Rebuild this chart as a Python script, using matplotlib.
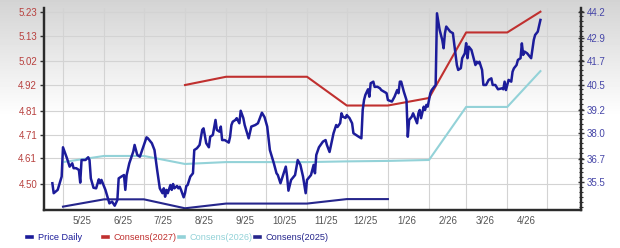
import numpy as np
import pandas as pd
import matplotlib
matplotlib.use('Agg')
import matplotlib.pyplot as plt
import matplotlib.dates as mdates
from matplotlib.ticker import MultipleLocator, NullFormatter
from matplotlib.lines import Line2D

plt.rcParams['font.family'] = ['Liberation Sans', 'DejaVu Sans']

# price, days counted from 2025-05-01
price_days = [-8, -7, -4, -1, 0, 3, 5, 7, 8, 10,
              12, 13, 14, 17, 19, 20, 21, 23, 25, 27,
              28, 29, 30, 32, 35, 37, 39, 41, 42, 44,
              46, 47, 48, 50, 53, 54, 56, 58, 61, 63,
              64, 67, 69, 71, 73, 75, 76, 77, 78, 79,
              81, 82, 83, 84, 86, 87, 88, 89, 91, 92,
              93, 94, 96, 98, 99, 101, 103, 105, 106, 108,
              110, 111, 113, 115, 116, 118, 119, 120, 122, 125,
              126, 127, 128, 130, 131, 133, 134, 136, 137, 140,
              142, 145, 147, 150, 152, 154, 156, 159, 161, 162,
              164, 166, 168, 169, 170, 172, 175, 177, 179, 181,
              183, 184, 187, 189, 190, 191, 193, 196, 198, 199,
              201, 204, 206, 207, 209, 210, 211, 213, 214, 215,
              216, 218, 219, 221, 223, 225, 226, 227, 228, 230,
              231, 232, 234, 235, 237, 239, 240, 242, 244, 245,
              248, 250, 252, 253, 254, 255, 257, 259, 260, 261,
              263, 264, 265, 267, 268, 269, 270, 272, 273, 274,
              275, 277, 278, 280, 281, 282, 284, 286, 287, 288,
              289, 291, 292, 294, 296, 297, 298, 300, 301, 303,
              304, 305, 306, 308, 309, 311, 312, 313, 314, 316,
              317, 319, 321, 323, 324, 326, 328, 331, 332, 333,
              334, 336, 338, 339, 340, 342, 343, 345, 346, 347,
              348, 350, 352, 353, 355, 356, 358, 360]
price_vals = [35.45, 34.94, 35.11, 35.79, 37.29, 36.73, 36.30, 36.47, 36.22, 36.22,
              36.13, 35.48, 36.64, 36.64, 36.78, 36.64, 35.70, 35.22, 35.19, 35.65,
              35.45, 35.62, 35.45, 35.11, 34.42, 34.51, 34.30, 34.59, 35.70, 35.79,
              35.87, 35.11, 35.87, 36.47, 37.07, 37.41, 36.90, 36.81, 37.41, 37.80,
              37.75, 37.50, 37.15, 36.13, 35.19, 34.94, 35.19, 34.76, 35.11, 34.94,
              35.36, 35.11, 35.41, 35.19, 35.31, 35.19, 35.27, 35.11, 34.73, 34.94,
              35.31, 35.36, 35.79, 35.96, 37.15, 37.24, 37.41, 38.18, 38.26, 37.50,
              37.29, 37.83, 37.92, 38.69, 38.18, 38.09, 38.35, 37.66, 37.66, 37.53,
              37.83, 38.43, 38.60, 38.69, 38.78, 38.52, 39.16, 38.78, 38.43, 37.75,
              38.35, 38.43, 38.52, 39.06, 38.83, 38.35, 37.15, 36.47, 35.96, 35.87,
              35.45, 35.87, 36.30, 35.79, 35.07, 35.62, 35.87, 36.64, 36.39, 35.79,
              34.94, 35.62, 35.87, 36.39, 35.96, 36.90, 37.29, 37.58, 37.66, 37.41,
              37.05, 38.01, 38.43, 38.33, 38.53, 39.03, 38.86, 38.79, 38.94, 38.86,
              38.79, 38.52, 38.01, 37.92, 37.83, 37.75, 39.20, 39.71, 39.97, 40.26,
              39.88, 40.57, 40.65, 40.38, 40.39, 40.31, 40.22, 40.14, 40.06, 39.71,
              39.63, 39.88, 40.22, 40.06, 40.65, 40.65, 40.14, 39.71, 37.83, 38.69,
              38.86, 39.03, 38.86, 38.52, 39.03, 39.20, 38.78, 39.37, 39.20, 39.46,
              39.37, 40.06, 40.22, 40.39, 40.48, 44.15, 43.30, 42.78, 42.36, 43.13,
              43.47, 43.30, 43.21, 43.13, 42.02, 41.50, 41.25, 41.34, 41.85, 42.10,
              42.62, 41.85, 42.44, 42.27, 42.02, 41.50, 41.67, 41.59, 41.67, 41.25,
              40.48, 40.48, 40.74, 40.82, 40.48, 40.48, 40.26, 40.31, 40.26, 40.65,
              40.22, 40.74, 40.65, 41.16, 41.33, 41.50, 41.76, 41.85, 42.61, 42.02,
              42.19, 42.10, 41.93, 41.85, 42.79, 43.04, 43.21, 43.81]

dates_2027 = ['2025-08-01', '2025-09-01', '2025-11-01', '2025-12-01', '2026-01-01',
              '2026-02-01', '2026-03-01', '2026-04-01', '2026-04-26']
cons_2027 = [4.920, 4.955, 4.955, 4.833, 4.833, 4.865, 5.143, 5.143, 5.231]

dates_2026 = ['2025-05-01', '2025-06-01', '2025-07-01', '2025-08-01', '2025-09-01',
              '2025-10-01', '2025-11-01', '2025-12-01', '2026-01-01', '2026-02-01',
              '2026-03-01', '2026-04-01', '2026-04-26']
cons_2026 = [4.593, 4.619, 4.619, 4.585, 4.593, 4.593, 4.593, 4.596, 4.598, 4.602,
             4.827, 4.827, 4.979]

dates_2025 = ['2025-05-01', '2025-06-01', '2025-07-01', '2025-08-01', '2025-09-01',
              '2025-10-01', '2025-11-01', '2025-12-01', '2026-01-01']
cons_2025 = [4.404, 4.435, 4.435, 4.397, 4.417, 4.417, 4.417, 4.436, 4.436]

left_ticks = [4.50, 4.61, 4.71, 4.81, 4.92, 5.02, 5.13, 5.23]
right_ticks = [35.5, 36.7, 38.0, 39.2, 40.5, 41.7, 42.9, 44.2]
month_labels = ['5/25', '6/25', '7/25', '8/25', '9/25', '10/25', '11/25', '12/25',
                '1/26', '2/26', '3/26', '4/26']

series = [('Price Daily', '#1c1c9a'), ('Consens(2027)', '#c0302f'),
          ('Consens(2026)', '#93d2d8'), ('Consens(2025)', '#26268c')]
col = dict(series)

start = pd.Timestamp('2025-05-01')
price_dates = start + pd.to_timedelta(price_days, unit='D')

fig = plt.figure(figsize=(6.2, 2.48), dpi=100)

# grey to white background fade
bg = fig.add_axes([0, 0, 1, 1], zorder=-10)
fade = 0.83 + 0.17 * np.clip(np.linspace(0, 1, 248) / 0.47, 0, 1)
bg.imshow(fade[:, None], cmap='gray', vmin=0, vmax=1, aspect='auto', extent=[0, 1, 0, 1])
bg.axis('off')

ax = fig.add_axes([0.071, 0.1532, 0.8661, 0.8145])
ax.patch.set_visible(False)
ax2 = ax.twinx()

ax.plot(pd.to_datetime(dates_2026), cons_2026, color=col['Consens(2026)'], lw=1.5)
ax.plot(pd.to_datetime(dates_2025), cons_2025, color=col['Consens(2025)'], lw=1.5)
ax.plot(pd.to_datetime(dates_2027), cons_2027, color=col['Consens(2027)'], lw=1.5)
ax2.plot(price_dates, price_vals, color=col['Price Daily'], lw=1.8)

ax.set_xlim(start - pd.Timedelta(days=14.3), start + pd.Timedelta(days=390.6))
ax.set_ylim(4.3897, 5.2467)
ax2.set_ylim(34.08, 44.42)

ax.xaxis.set_major_locator(mdates.MonthLocator())
ax.xaxis.set_major_formatter(NullFormatter())
mid = [pd.Timestamp(f'20{m.split("/")[1]}-{int(m.split("/")[0]):02d}-15') for m in month_labels]
ax.set_xticks(mid, minor=True)
ax.set_xticklabels(month_labels, minor=True)
ax.tick_params(axis='x', which='both', length=0, pad=4, labelsize=7, labelcolor='#555555')

ax.set_yticks(left_ticks)
ax.set_yticklabels([f'{v:.2f}' for v in left_ticks])
ax.tick_params(axis='y', length=3, width=1, color='#333333', labelsize=7,
               labelcolor='#b8413f', pad=2)

ax2.set_yticks(right_ticks)
ax2.set_yticklabels([f'{v:.1f}' for v in right_ticks])
ax2.yaxis.set_minor_locator(MultipleLocator(0.25))
ax2.tick_params(axis='y', which='major', direction='inout', length=4, width=1,
                color='#333333', labelsize=7, labelcolor='#4646a8', pad=2)
ax2.tick_params(axis='y', which='minor', direction='inout', length=3, width=0.8,
                color='#333333')

ax.set_axisbelow(True)
ax.grid(True, which='major', color='#d3d3d3', lw=0.8)

for a in (ax, ax2):
    a.spines['top'].set_visible(False)
    for s in ('left', 'right', 'bottom'):
        a.spines[s].set_color('#2b2b2b')
        a.spines[s].set_linewidth(1.6)

# legend row along the bottom
for (label, c), x in zip(series, [27, 103, 179, 255]):
    fig.legend([Line2D([], [], color=c, lw=2.6)], [label], loc='center left',
               bbox_to_anchor=(x / 620, 0.042), frameon=False, fontsize=6.6,
               handlelength=0.55, handletextpad=0.6, borderpad=0, borderaxespad=0,
               labelcolor=c)

fig.savefig('out.png', dpi=100)
